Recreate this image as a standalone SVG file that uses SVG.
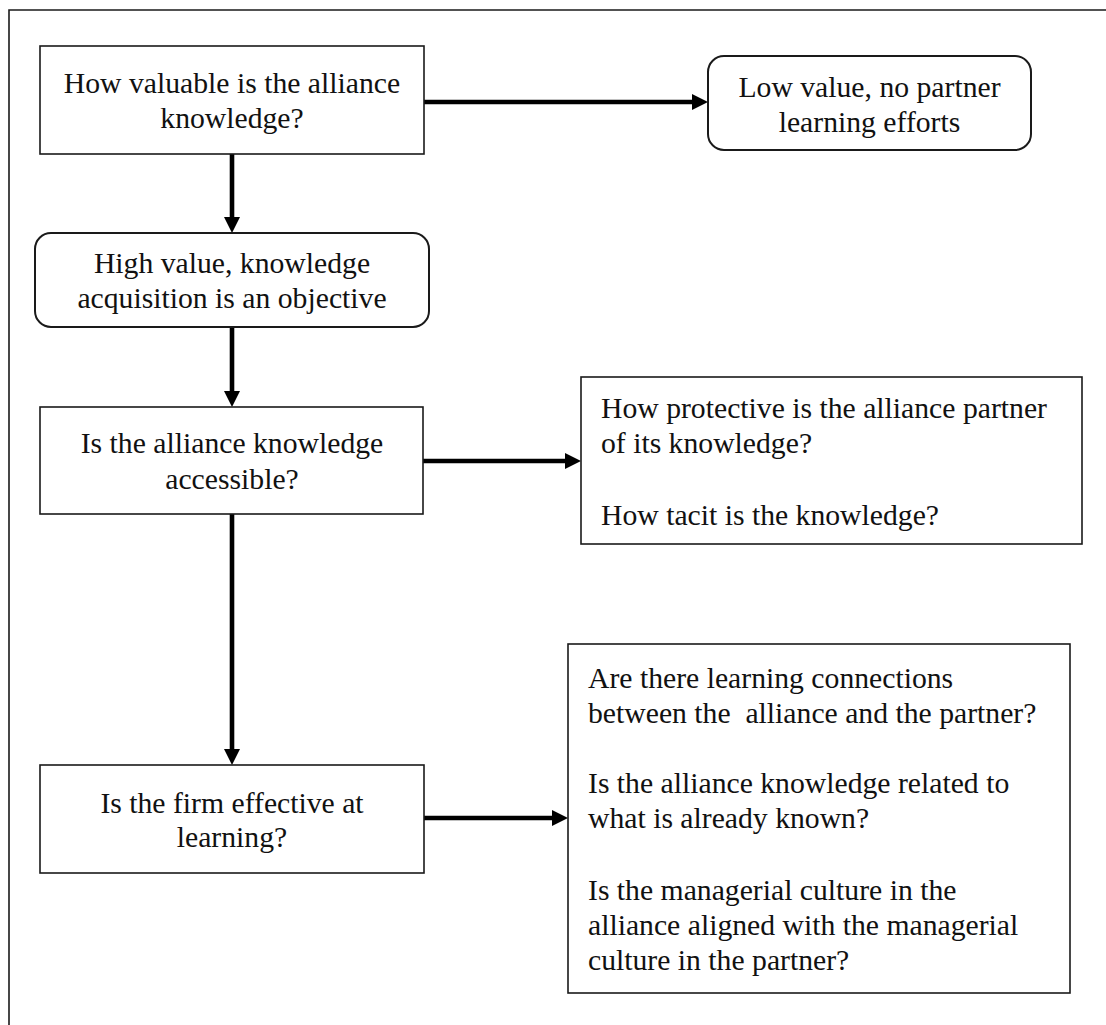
<svg xmlns="http://www.w3.org/2000/svg" width="1106" height="1025" viewBox="0 0 1106 1025">
  <style>
    .box { fill: #ffffff; stroke: #1a1a1a; stroke-width: 1.6; }
    .rbox { fill: #ffffff; stroke: #1a1a1a; stroke-width: 2; }
    .frame { fill: none; stroke: #1a1a1a; stroke-width: 1.6; }
    .conn { fill: none; stroke: #000000; stroke-width: 4.6; }
    text { font-family: 'Liberation Serif', 'DejaVu Serif', serif; font-size: 29.7px; fill: #111111; }
    .c { text-anchor: middle; }
  </style>
  <defs>
    <marker id="head" markerUnits="userSpaceOnUse" markerWidth="16" markerHeight="16" refX="0" refY="8" orient="auto">
      <path d="M0,0 L16,8 L0,16 Z" fill="#000000"/>
    </marker>
  </defs>

  <rect width="1106" height="1025" fill="#ffffff"/>
  <!-- outer frame -->
  <path class="frame" d="M9,1025 V10 H1106"/>

  <g id="connectors">
    <line class="conn" x1="424" y1="102" x2="692" y2="102" marker-end="url(#head)"/>
    <line class="conn" x1="232" y1="154" x2="232" y2="217" marker-end="url(#head)"/>
    <line class="conn" x1="232" y1="327" x2="232" y2="391" marker-end="url(#head)"/>
    <line class="conn" x1="423" y1="461" x2="565" y2="461" marker-end="url(#head)"/>
    <line class="conn" x1="232" y1="514" x2="232" y2="749" marker-end="url(#head)"/>
    <line class="conn" x1="424" y1="818" x2="552" y2="818" marker-end="url(#head)"/>
  </g>

  <g id="value-question">
    <rect class="box" x="40" y="46" width="384" height="108"/>
    <text class="c" x="232" y="93">How valuable is the alliance</text>
    <text class="c" x="232" y="128">knowledge?</text>
  </g>

  <g id="low-value">
    <rect class="rbox" x="708" y="56" width="323" height="94" rx="16" ry="16"/>
    <text class="c" x="869.5" y="97">Low value, no partner</text>
    <text class="c" x="869.5" y="132">learning efforts</text>
  </g>

  <g id="high-value">
    <rect class="rbox" x="35" y="233" width="394" height="94" rx="16" ry="16"/>
    <text class="c" x="232" y="273">High value, knowledge</text>
    <text class="c" x="232" y="308">acquisition is an objective</text>
  </g>

  <g id="accessible-question">
    <rect class="box" x="40" y="407" width="383" height="107"/>
    <text class="c" x="232" y="453">Is the alliance knowledge</text>
    <text class="c" x="232" y="489">accessible?</text>
  </g>

  <g id="accessibility-factors">
    <rect class="box" x="581" y="377" width="501" height="167"/>
    <text x="601" y="418">How protective is the alliance partner</text>
    <text x="601" y="453">of its knowledge?</text>
    <text x="601" y="525">How tacit is the knowledge?</text>
  </g>

  <g id="learning-question">
    <rect class="box" x="40" y="765" width="384" height="108"/>
    <text class="c" x="232" y="813">Is the firm effective at</text>
    <text class="c" x="232" y="847">learning?</text>
  </g>

  <g id="learning-factors">
    <rect class="box" x="568" y="644" width="502" height="349"/>
    <text x="588" y="688" xml:space="preserve">Are there learning connections</text>
    <text x="588" y="723" xml:space="preserve">between the  alliance and the partner?</text>
    <text x="588" y="793">Is the alliance knowledge related to</text>
    <text x="588" y="828">what is already known?</text>
    <text x="588" y="900">Is the managerial culture in the</text>
    <text x="588" y="935">alliance aligned with the managerial</text>
    <text x="588" y="970">culture in the partner?</text>
  </g>
</svg>
